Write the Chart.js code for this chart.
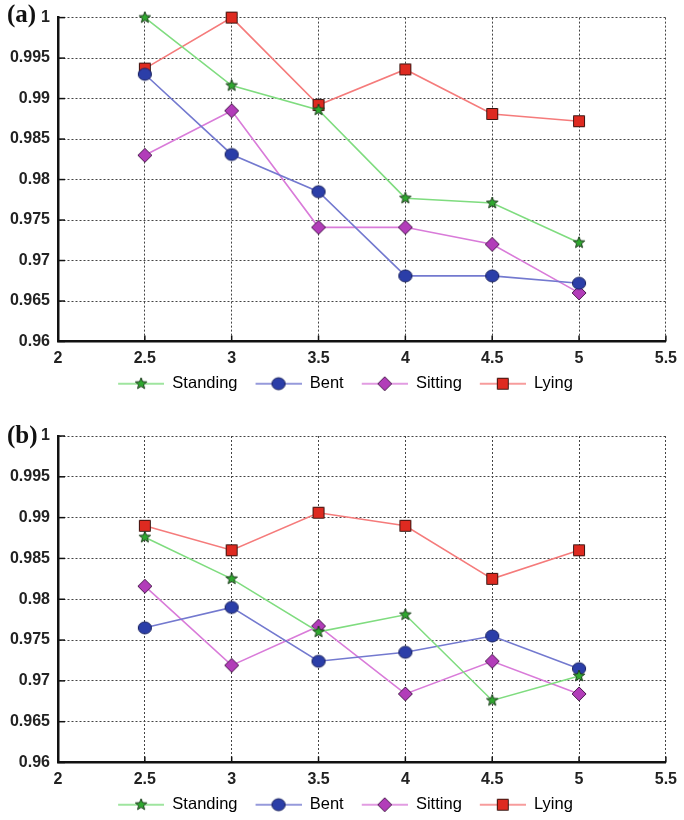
<!DOCTYPE html>
<html><head><meta charset="utf-8">
<script src="https://cdn.jsdelivr.net/npm/chart.js@4"></script>
<style>
html,body{margin:0;padding:0;background:#fff;}
#wrap{position:relative;width:684px;height:820px;overflow:hidden;}
.panel{position:absolute;left:0;width:684px;}
.tag{position:absolute;left:7px;font:bold 25px "Liberation Serif",serif;color:#111;line-height:28px;}
</style></head><body>
<div id="wrap">
 <div class="panel" style="top:0;height:402px"><canvas id="ca" width="684" height="402"></canvas></div>
 <div class="tag" style="top:0px">(a)</div>
 <div class="panel" style="top:418px;height:405px"><canvas id="cb" width="684" height="405"></canvas></div>
 <div class="tag" style="top:421px">(b)</div>
</div>
<script>
// ---- data ----
const xValues = [2.5, 3, 3.5, 4, 4.5, 5];
const seriesNames = ['Standing', 'Bent', 'Sitting', 'Lying'];

const standingA = [1.0, 0.9916, 0.9886, 0.9777, 0.9771, 0.9722];
const bentA     = [0.9930, 0.9831, 0.9785, 0.9681, 0.9681, 0.9672];
const sittingA  = [0.9830, 0.9885, 0.9741, 0.9741, 0.9720, 0.9660];
const lyingA    = [0.9937, 1.0, 0.9892, 0.9936, 0.9881, 0.9872];

const standingB = [0.9876, 0.9825, 0.9760, 0.9781, 0.9676, 0.9706];
const bentB     = [0.9765, 0.9790, 0.9724, 0.9735, 0.9755, 0.9715];
const sittingB  = [0.9816, 0.9719, 0.9767, 0.9684, 0.9724, 0.9684];
const lyingB    = [0.9890, 0.9860, 0.9906, 0.9890, 0.9825, 0.9860];

const xTicks = [2, 2.5, 3, 3.5, 4, 4.5, 5, 5.5];
const yTicks = [0.96, 0.965, 0.97, 0.975, 0.98, 0.985, 0.99, 0.995, 1];

// ---- styles ----
const styles = [
  {shape:'star',    line:'#7fdc7f', fill:'#2fa82f', stroke:'#1b3b1b'},
  {shape:'circle',  line:'#7379cf', fill:'#2b3ea8', stroke:'#1a2260'},
  {shape:'diamond', line:'#d97bd9', fill:'#b23db9', stroke:'#4a1a4d'},
  {shape:'square',  line:'#f57b7b', fill:'#de2a20', stroke:'#3a1510'}
];

function drawShape(g, shape, cx, cy, fill, stroke){
  g.fillStyle = fill; g.strokeStyle = stroke; g.lineWidth = 1;
  g.beginPath();
  if (shape === 'star') {
    const R = 6, r = 2.6;
    for (let i = 0; i < 10; i++) {
      const a = -Math.PI/2 + i*Math.PI/5, rr = i % 2 ? r : R;
      g.lineTo(cx + rr*Math.cos(a), cy + rr*Math.sin(a));
    }
    g.closePath();
  } else if (shape === 'circle') {
    g.ellipse(cx, cy, 6.6, 6.0, 0, 0, 2*Math.PI);
  } else if (shape === 'diamond') {
    g.moveTo(cx, cy-7); g.lineTo(cx+7, cy); g.lineTo(cx, cy+7); g.lineTo(cx-7, cy); g.closePath();
  } else {
    g.rect(cx-5.5, cy-5.5, 11, 11);
  }
  g.fill(); g.stroke();
}
function makeMarker(st){
  const c = document.createElement('canvas'); c.width = 18; c.height = 18;
  drawShape(c.getContext('2d'), st.shape, 9, 9, st.fill, st.stroke);
  return c;
}
function makeLegendIcon(st){
  const c = document.createElement('canvas'); c.width = 56; c.height = 18;
  const g = c.getContext('2d');
  g.strokeStyle = st.line; g.lineWidth = 1.6;
  g.beginPath(); g.moveTo(10, 9); g.lineTo(56, 9); g.stroke();
  drawShape(g, st.shape, 33, 9, st.fill, st.stroke);
  return c;
}
const markers = styles.map(makeMarker);
const legendIcons = styles.map(makeLegendIcon);

const inwardTicks = {
  id: 'inwardTicks',
  afterDatasetsDraw(chart){
    const {ctx, chartArea: a, scales} = chart;
    ctx.save(); ctx.strokeStyle = '#111'; ctx.lineWidth = 1.5;
    xTicks.forEach(v => { const px = scales.x.getPixelForValue(v);
      ctx.beginPath(); ctx.moveTo(px, a.bottom); ctx.lineTo(px, a.bottom - 6); ctx.stroke(); });
    yTicks.forEach(v => { const py = scales.y.getPixelForValue(v);
      ctx.beginPath(); ctx.moveTo(a.left, py); ctx.lineTo(a.left + 7, py); ctx.stroke(); });
    ctx.restore();
  }
};

function fmt(v){ return String(+Number(v).toFixed(3)); }

function build(id, data, topPad){
  const datasets = data.map((vals, i) => ({
    label: seriesNames[i],
    data: xValues.map((x, j) => ({x, y: vals[j]})),
    borderColor: styles[i].line,
    backgroundColor: styles[i].fill,
    borderWidth: 1.6,
    pointStyle: markers[i],
    pointRadius: 7,
    pointHoverRadius: 7,
    tension: 0,
    clip: false
  }));
  return new Chart(document.getElementById(id), {
    type: 'line',
    data: {datasets},
    plugins: [inwardTicks],
    options: {
      responsive: false,
      animation: false,
      devicePixelRatio: 1,
      layout: {padding: {top: topPad, left: 8, right: 11, bottom: 0}},
      plugins: {
        tooltip: {enabled: false},
        legend: {
          position: 'bottom',
          labels: {
            usePointStyle: true,
            pointStyleWidth: 56,
            boxHeight: 16,
            padding: 8,
            color: '#111',
            font: {family: '"Liberation Sans", Arial, sans-serif', size: 16.5},
            generateLabels: (chart) => seriesNames.map((n, i) => ({
              text: n, pointStyle: legendIcons[i], datasetIndex: i,
              fillStyle: styles[i].fill, strokeStyle: styles[i].line, lineWidth: 0, hidden: false
            }))
          }
        }
      },
      scales: {
        x: {
          type: 'linear', min: 2, max: 5.5,
          afterBuildTicks: s => { s.ticks = xTicks.map(v => ({value: v})); },
          afterFit: s => { s.height = 26; },
          ticks: {callback: fmt, padding: 7, color: '#222', maxRotation: 0,
                  font: {family: '"Liberation Sans", Arial, sans-serif', size: 16, weight: 'bold'}},
          grid: {color: '#444', lineWidth: 1, drawTicks: false},
          border: {display: true, color: '#111', width: 2.5, dash: [2, 2]}
        },
        y: {
          type: 'linear', min: 0.96, max: 1,
          afterBuildTicks: s => { s.ticks = yTicks.map(v => ({value: v})); },
          afterFit: s => { s.width = 50; },
          ticks: {callback: fmt, padding: 8, color: '#222',
                  font: {family: '"Liberation Sans", Arial, sans-serif', size: 16, weight: 'bold'}},
          grid: {color: '#444', lineWidth: 1, drawTicks: false},
          border: {display: true, color: '#111', width: 2.5, dash: [2, 2]}
        }
      }
    }
  });
}

build('ca', [standingA, bentA, sittingA, lyingA], 14);
build('cb', [standingB, bentB, sittingB, lyingB], 18);
</script>
</body></html>
